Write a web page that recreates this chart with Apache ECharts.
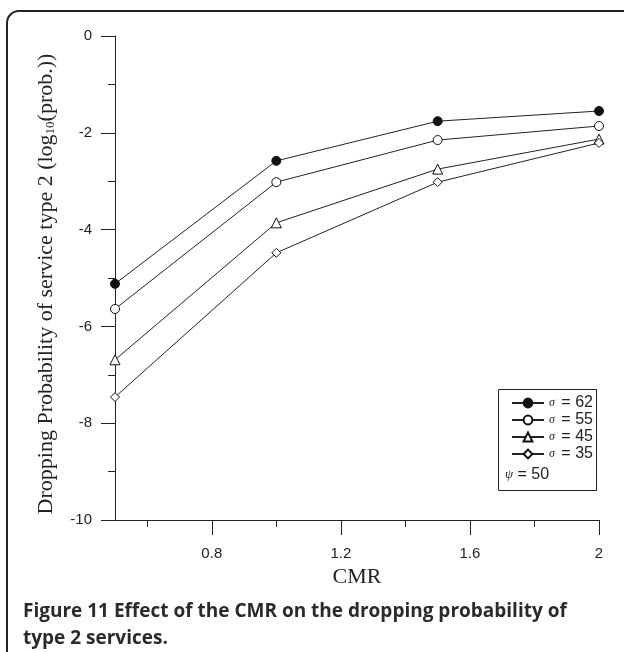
<!DOCTYPE html>
<html>
<head>
<meta charset="utf-8">
<script src="https://cdn.jsdelivr.net/npm/echarts@6/dist/echarts.min.js"></script>
<style>
html,body{margin:0;padding:0;background:#fff;}
#c{width:624px;height:652px;}
</style>
</head>
<body>
<div id="c"></div>
<script>
var cmr = [0.5, 1.0, 1.5, 2.0];
var seriesNames = ['σ = 62', 'σ = 55', 'σ = 45', 'σ = 35'];
var sigma62 = [-5.12, -2.58, -1.76, -1.55];
var sigma55 = [-5.64, -3.02, -2.15, -1.86];
var sigma45 = [-6.69, -3.86, -2.75, -2.13];
var sigma35 = [-7.46, -4.48, -3.02, -2.21];
var xMajorTicks = [0.8, 1.2, 1.6, 2.0];
var xMinorTicks = [0.6, 1.0, 1.4, 1.8];

function pairs(ys) { return cmr.map(function (x, i) { return [x, ys[i]]; }); }

var markers = [
  { symbol: 'circle', size: 9, fill: '#111' },
  { symbol: 'circle', size: 9, fill: '#fff' },
  { symbol: 'triangle', size: 10, fill: '#fff' },
  { symbol: 'diamond', size: 9, fill: '#fff' }
];
var allData = [sigma62, sigma55, sigma45, sigma35];

var chart = echarts.init(document.getElementById('c'));
var series = allData.map(function (d, i) {
  return {
    name: seriesNames[i],
    type: 'line',
    xAxisIndex: 0,
    data: pairs(d),
    symbol: markers[i].symbol,
    symbolSize: markers[i].size,
    showAllSymbol: true,
    lineStyle: { color: '#222', width: 1 },
    itemStyle: { color: markers[i].fill, borderColor: '#111', borderWidth: 1 },
    emphasis: { disabled: true },
    animation: false
  };
});

var serif = '"Liberation Serif", "DejaVu Serif", serif';
var sans = '"Liberation Sans", Arial, sans-serif';

chart.setOption({
  animation: false,
  grid: { left: 115, right: 25, top: 36, bottom: 132 },
  xAxis: [{
    type: 'value', min: 0.5, max: 2, position: 'bottom', offset: 0,
    axisLine: { show: true, onZero: false, lineStyle: { color: '#222', width: 1 } },
    axisTick: { show: true, customValues: xMajorTicks, length: 15, inside: false, lineStyle: { color: '#222' } },
    axisLabel: { show: true, customValues: xMajorTicks, margin: 26, fontFamily: sans, fontSize: 15, color: '#222',
      formatter: function (v) { return String(v); } },
    splitLine: { show: false },
    name: 'CMR', nameLocation: 'middle', nameGap: 43,
    nameTextStyle: { fontFamily: serif, fontSize: 22, color: '#222' }
  }, {
    type: 'value', min: 0.5, max: 2, position: 'bottom', offset: 0,
    axisLine: { show: false, onZero: false },
    axisTick: { show: true, customValues: xMinorTicks, length: 7, lineStyle: { color: '#222' } },
    axisLabel: { show: false },
    splitLine: { show: false }
  }],
  yAxis: {
    type: 'value', min: -10, max: 0, interval: 2,
    axisLine: { show: true, onZero: false, lineStyle: { color: '#222', width: 1 } },
    axisTick: { show: true, length: 14, lineStyle: { color: '#222' } },
    minorTick: { show: true, splitNumber: 2, length: 7, lineStyle: { color: '#222' } },
    axisLabel: { margin: 23, fontFamily: sans, fontSize: 15, color: '#222' },
    splitLine: { show: false },
    name: 'Dropping Probability of service type 2 (log{sub|10}(prob.))',
    nameLocation: 'middle', nameGap: 58,
    nameTextStyle: { fontFamily: serif, fontSize: 22, color: '#222', padding: [0, 12, 0, 0],
      rich: { sub: { fontFamily: serif, fontSize: 13, color: '#222', verticalAlign: 'bottom', padding: [9, 0, 0, 0] } } }
  },
  legend: {
    show: true,
    left: 506, top: 390,
    orient: 'vertical',
    itemWidth: 32, itemHeight: 11, itemGap: 1,
    data: seriesNames,
    selectedMode: false,
    formatter: function (n) { return '{s|σ}{t|' + n.slice(1) + '}'; },
    textStyle: {
      fontFamily: sans, fontSize: 15, color: '#222', lineHeight: 15,
      rich: {
        s: { fontFamily: serif, fontStyle: 'italic', fontSize: 12, color: '#222', lineHeight: 15, padding: [0, 2, 0, 0] },
        t: { fontFamily: sans, fontSize: 16, color: '#222', lineHeight: 15 }
      }
    }
  },
  series: series,
  graphic: [
    { type: 'rect', shape: { x: 7, y: 11, width: 640, height: 720, r: 12 },
      style: { fill: 'none', stroke: '#222', lineWidth: 2 }, silent: true },
    { type: 'rect', shape: { x: 498.5, y: 389.5, width: 98, height: 101 },
      style: { fill: 'none', stroke: '#222', lineWidth: 1 }, silent: true, z: 10 },
    { type: 'text', left: 505, top: 467, silent: true, z: 10,
      style: { text: '{p|ψ}{t| = 50}', rich: {
        p: { fontFamily: serif, fontStyle: 'italic', fontSize: 13, fill: '#222' },
        t: { fontFamily: sans, fontSize: 16, fill: '#222' } } } },
    { type: 'text', left: 23, top: 598, silent: true,
      style: { text: 'Figure 11 Effect of the CMR on the dropping probability of\ntype 2 services.',
        font: 'bold 19px "Open Sans", sans-serif', fill: '#2a2a2a', lineHeight: 27 } }
  ]
});
</script>
</body>
</html>
